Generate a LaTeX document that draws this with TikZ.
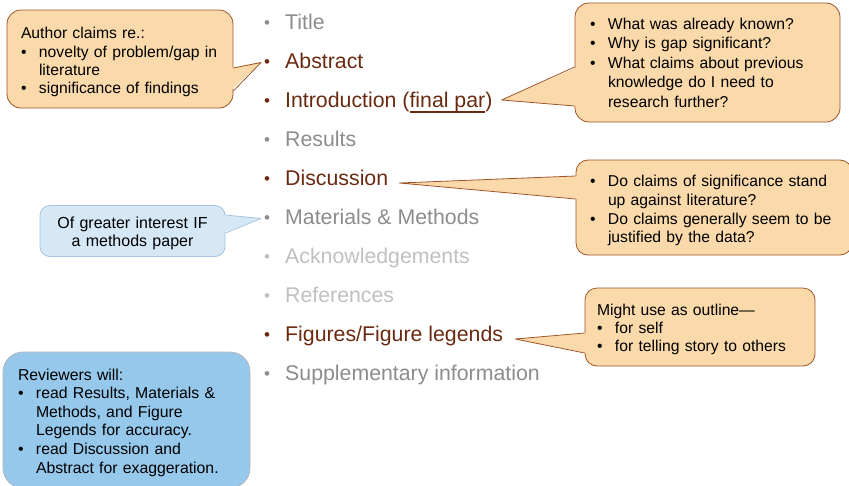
\documentclass[tikz,border=0pt]{standalone}
\usepackage{fontspec}
\setmainfont{Liberation Sans}
\usetikzlibrary{calc}

\definecolor{itembrown}{RGB}{105,42,16}
\definecolor{itemgray}{RGB}{140,140,140}
\definecolor{itemlight}{RGB}{192,192,192}
\definecolor{notefill}{RGB}{250,217,170}
\definecolor{noteline}{RGB}{158,84,40}
\definecolor{tipfill}{RGB}{214,232,246}
\definecolor{tipline}{RGB}{165,195,222}
\definecolor{revfill}{RGB}{150,200,236}
\definecolor{revline}{RGB}{178,182,188}

\newcommand{\itembul}{\makebox[21pt][l]{\fontsize{17}{17}\selectfont\raisebox{0.5pt}{\textbullet}}}
\newcommand{\notebul}[1]{\makebox[18pt][l]{\textbullet}\mbox{#1}}
\newcommand{\noteind}[1]{\hspace*{18pt}\mbox{#1}}
\newcommand{\parul}[1]{\setbox0\hbox{#1}\rlap{\rule[-5.6pt]{\wd0}{1.6pt}}\box0}

\begin{document}
\begin{tikzpicture}[x=1pt, y=-1pt, line join=round,
  item/.style={anchor=base west, inner sep=0pt, text height=15pt, text depth=4pt,
    font=\fontsize{21.3}{25}\selectfont},
  note/.style={draw=noteline, fill=notefill, line width=0.8pt, rounded corners=14pt,
    align=left, font=\fontsize{15.7}{18.6}\selectfont},
  tipnote/.style={draw=tipline, fill=tipfill, line width=0.8pt, rounded corners=10pt,
    align=center, font=\fontsize{16}{18.4}\selectfont},
  revnote/.style={draw=revline, fill=revfill, line width=0.8pt, rounded corners=20pt,
    align=left, font=\fontsize{15.8}{18.6}\selectfont}]

% ---------------------------
% Frame (picture size 849 x 485)
% ---------------------------
\useasboundingbox (0,0) rectangle (849,485);
\clip (0,0) rectangle (849,485);

% ---------------------------
% Parts of the paper
% ---------------------------
\node[item, text=itemgray]  (title)    at (264,29)  {\itembul Title};
\node[item, text=itembrown] (abstract) at (264,68)  {\itembul Abstract};
\node[item, text=itembrown] (intro)    at (264,107) {\itembul Introduction (\parul{final par})};
\node[item, text=itemgray]  (results)  at (264,146) {\itembul Results};
\node[item, text=itembrown] (discuss)  at (264,185) {\itembul Discussion};
\node[item, text=itemgray]  (methods)  at (264,224) {\itembul Materials \& Methods};
\node[item, text=itemlight] (acknow)   at (264,263) {\itembul Acknowledgements};
\node[item, text=itemlight] (refs)     at (264,302) {\itembul References};
\node[item, text=itembrown] (figures)  at (264,341) {\itembul Figures/Figure legends};
\node[item, text=itemgray]  (suppl)    at (264,380) {\itembul Supplementary information};

% ---------------------------
% Callout boxes
% (text height/depth place the first baseline inside each box)
% ---------------------------
\node[note, text width=198pt, inner xsep=14pt, minimum height=98pt,
      text height=12pt, text depth=52.6pt, font=\fontsize{15.7}{18.3}\selectfont] (claims) at (120,59) {%
  Author claims re.:\\
  \notebul{novelty of problem/gap in}\\
  \noteind{literature}\\
  \notebul{significance of findings}};

\node[note, text width=235pt, inner xsep=15pt, minimum height=119pt, font=\fontsize{15.7}{19.5}\selectfont] (known) at (707.5,62.5) {%
  \notebul{What was already known?}\\
  \notebul{Why is gap significant?}\\
  \notebul{What claims about previous}\\
  \noteind{knowledge do I need to}\\
  \noteind{research further?}};

\node[note, text width=248pt, inner xsep=14pt, minimum height=95pt, rounded corners=12pt,
      text height=12pt, text depth=54pt, font=\fontsize{15.7}{18.8}\selectfont] (standup) at (714,207.5) {%
  \notebul{Do claims of significance stand}\\
  \noteind{up against literature?}\\
  \notebul{Do claims generally seem to be}\\
  \noteind{justified by the data?}};

\node[tipnote, text width=161pt, inner xsep=12pt, minimum height=51pt,
      text height=12pt, text depth=17.4pt] (interest) at (132.5,231) {%
  Of greater interest IF\\
  a methods paper};

\node[note, text width=206pt, inner xsep=12pt, minimum height=78pt, rounded corners=12pt,
      text height=12pt, text depth=35pt, font=\fontsize{15.7}{18}\selectfont] (outline) at (700,327) {%
  Might use as outline---\\
  \notebul{for self}\\
  \notebul{for telling story to others}};

\node[revnote, text width=217pt, inner xsep=15pt, minimum height=136pt,
      text height=12pt, text depth=92pt] (review) at (126.5,420) {%
  Reviewers will:\\
  \notebul{read Results, Materials \&}\\
  \noteind{Methods, and Figure}\\
  \noteind{Legends for accuracy.}\\
  \notebul{read Discussion and}\\
  \noteind{Abstract for exaggeration.}};

% ---------------------------
% Pointer ends
% ---------------------------
\coordinate (claimsA)   at ($(claims.east)+(0,9)$);
\coordinate (claimsB)   at ($(claims.east)+(0,32)$);
\coordinate (claimsT)   at ($(abstract.west)+(-3,0)$);

\coordinate (knownA)    at ($(known.west)+(0,4.5)$);
\coordinate (knownB)    at ($(known.west)+(0,43.5)$);
\coordinate (knownT)    at ($(intro.east)+(9,-1.5)$);

\coordinate (standupA)  at ($(standup.west)+(0,-31.5)$);
\coordinate (standupB)  at ($(standup.west)+(0,-8.5)$);
\coordinate (standupT)  at ($(discuss.east)+(11,3.5)$);

\coordinate (interestA) at ($(interest.east)+(0,-16)$);
\coordinate (interestB) at ($(interest.east)+(0,2)$);
\coordinate (interestT) at ($(methods.west)+(-3,0)$);

\coordinate (outlineA)  at ($(outline.west)+(0,6)$);
\coordinate (outlineB)  at ($(outline.west)+(0,26)$);
\coordinate (outlineT)  at ($(figures.east)+(12,3.5)$);

% ---------------------------
% Pointers (fill hides the box border under the base)
% ---------------------------
\fill[notefill] ($(claimsA)+(-3,0)$) -- (claimsT) -- ($(claimsB)+(-3,0)$) -- cycle;
\draw[noteline, line width=0.8pt] (claimsA) -- (claimsT) -- (claimsB);

\fill[notefill] ($(knownA)+(3,0)$) -- (knownT) -- ($(knownB)+(3,0)$) -- cycle;
\draw[noteline, line width=0.8pt] (knownA) -- (knownT) -- (knownB);

\fill[notefill] ($(standupA)+(3,0)$) -- (standupT) -- ($(standupB)+(3,0)$) -- cycle;
\draw[noteline, line width=0.8pt] (standupA) -- (standupT) -- (standupB);

\fill[tipfill] ($(interestA)+(-3,0)$) -- (interestT) -- ($(interestB)+(-3,0)$) -- cycle;
\draw[tipline, line width=0.8pt] (interestA) -- (interestT) -- (interestB);

\fill[notefill] ($(outlineA)+(3,0)$) -- (outlineT) -- ($(outlineB)+(3,0)$) -- cycle;
\draw[noteline, line width=0.8pt] (outlineA) -- (outlineT) -- (outlineB);

\end{tikzpicture}
\end{document}
